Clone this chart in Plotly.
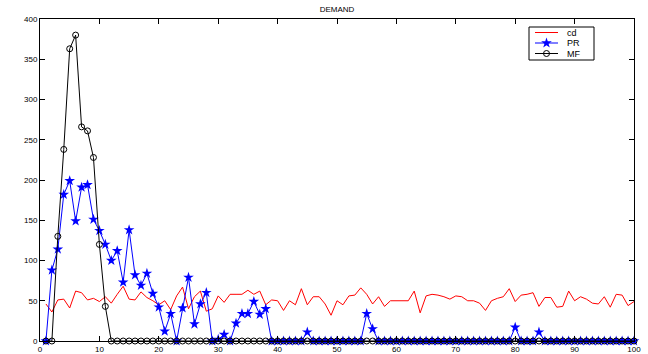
import plotly.graph_objects as go

x = list(range(1, 101))

cd = [46, 36, 51, 52, 41, 62, 60, 51, 53, 49,
      55, 47, 58, 68, 52, 51, 61, 54, 50, 45,
      50, 39, 56, 67, 40, 55, 62, 37, 40, 56,
      48, 58, 58, 58, 63, 58, 62, 45, 51, 50,
      38, 50, 45, 65, 45, 55, 55, 46, 32, 50,
      45, 56, 57, 66, 58, 46, 55, 43, 50, 50,
      50, 50, 62, 35, 56, 58, 57, 55, 52, 56,
      55, 50, 50, 47, 38, 50, 53, 55, 65, 49,
      57, 58, 60, 43, 54, 54, 42, 43, 62, 50,
      55, 52, 47, 46, 55, 42, 58, 57, 44, 49]

pr = [0, 88, 114, 182, 199, 149, 191, 194, 151, 137,
      120, 100, 112, 73, 138, 82, 69, 84, 59, 42,
      12, 34, 0, 41, 79, 21, 46, 60, 0, 2,
      8, 0, 22, 34, 34, 49, 33, 40, 0, 0,
      0, 0, 0, 0, 11, 0, 0, 0, 0, 0,
      0, 0, 0, 0, 34, 15, 0, 0, 0, 0,
      0, 0, 0, 0, 0, 0, 0, 0, 0, 0,
      0, 0, 0, 0, 0, 0, 0, 0, 0, 17,
      0, 0, 0, 11, 0, 0, 0, 0, 0, 0,
      0, 0, 0, 0, 0, 0, 0, 0, 0, 0]

mf = [0, 0, 130, 238, 363, 380, 266, 261, 228, 120, 43] + [0] * 89

series_names = ["cd", "PR", "MF"]
x_ticks = list(range(0, 101, 10))
y_ticks = list(range(0, 401, 50))

font_family = "Liberation Sans, Arial, sans-serif"

# plot area in pixels
L, R, T, B = 40, 634, 19, 341
W, H = 648, 354

styles = [
    dict(mode="lines", line=dict(color="#ff0000", width=1), marker=None),
    dict(mode="lines+markers", line=dict(color="#0000ff", width=1),
         marker=dict(symbol="star", size=8, color="#0000ff")),
    dict(mode="lines+markers", line=dict(color="#000000", width=1),
         marker=dict(symbol="circle-open", size=6, color="#000000",
                     line=dict(width=1, color="#000000"))),
]

fig = go.Figure()
for name, ys, st in zip(series_names, [cd, pr, mf], styles):
    kw = dict(x=x, y=ys, name=name, mode=st["mode"], line=st["line"],
              cliponaxis=False, showlegend=False)
    if st["marker"] is not None:
        kw["marker"] = st["marker"]
    fig.add_trace(go.Scatter(**kw))

# manual legend (pixel coordinate overlay axes)
box = dict(x0=529, x1=594, y0=27, y1=60)
row_y = [32.5, 43, 53.5]
shapes = [dict(type="rect", xref="x2", yref="y2", x0=box["x0"], x1=box["x1"],
               y0=box["y0"], y1=box["y1"], line=dict(color="black", width=1),
               fillcolor="white", layer="below")]
annotations = []
for name, st, ry in zip(series_names, styles, row_y):
    shapes.append(dict(type="line", xref="x2", yref="y2", x0=535, x1=558, y0=ry, y1=ry,
                       line=dict(color=st["line"]["color"], width=1), layer="below"))
    annotations.append(dict(xref="x2", yref="y2", x=565, y=ry, text=name, showarrow=False,
                            xanchor="left", yanchor="middle",
                            font=dict(size=9, family=font_family, color="black")))
    if st["marker"] is not None:
        fig.add_trace(go.Scatter(x=[546.5], y=[ry], xaxis="x2", yaxis="y2", mode="markers",
                                 marker=st["marker"], showlegend=False, hoverinfo="skip",
                                 cliponaxis=False))

axis_common = dict(showline=True, linecolor="black", linewidth=1, mirror="ticks",
                   ticks="inside", ticklen=5, tickcolor="black", showgrid=False,
                   zeroline=False, automargin=False,
                   tickfont=dict(size=8, family=font_family, color="black"))

fig.update_layout(
    width=W, height=H,
    margin=dict(l=L, r=W - R, t=T, b=H - B),
    paper_bgcolor="white", plot_bgcolor="white",
    title=dict(text="DEMAND", x=(L + R) / 2 / W, xanchor="center", y=1 - 9 / H,
               yanchor="middle", font=dict(size=8, family=font_family, color="black")),
    xaxis=dict(range=[0, 100], tickvals=x_ticks, **axis_common),
    yaxis=dict(range=[0, 400], tickvals=y_ticks, **axis_common),
    xaxis2=dict(range=[L, R], overlaying="x", visible=False, fixedrange=True),
    yaxis2=dict(range=[B, T], overlaying="y", visible=False, fixedrange=True),
    shapes=shapes,
    annotations=annotations,
    showlegend=False,
)

fig.write_html("out.html")
